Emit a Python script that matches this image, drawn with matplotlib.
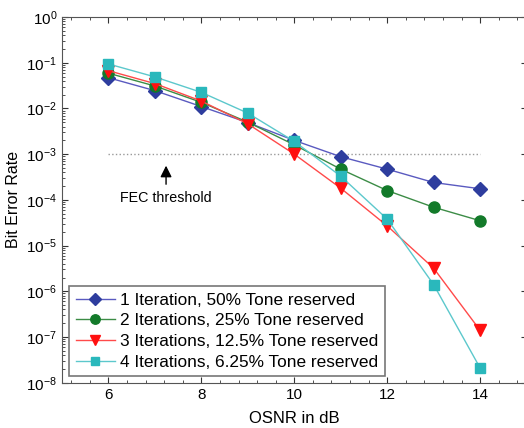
import numpy as np
import matplotlib.pyplot as plt
from matplotlib.ticker import AutoMinorLocator, FixedLocator, NullFormatter

# OSNR values [dB]
osnr = [6, 7, 8, 9, 10, 11, 12, 13, 14]

# Bit error rates
ber_1it = [0.047, 0.0245, 0.011, 0.0049, 0.002, 8.8e-4, 4.7e-4, 2.4e-4, 1.75e-4]
ber_2it = [0.059, 0.031, 0.0136, 0.005, 0.0016, 4.7e-4, 1.6e-4, 6.9e-5, 3.5e-5]
ber_3it = [0.067, 0.035, 0.0145, 0.0046, 1.0e-3, 1.8e-4, 2.7e-5, 3.2e-6, 1.4e-7]
ber_4it = [0.094, 0.049, 0.0225, 0.0079, 0.0019, 3.3e-4, 3.8e-5, 1.4e-6, 2.1e-8]

labels = ["1 Iteration, 50% Tone reserved",
          "2 Iterations, 25% Tone reserved",
          "3 Iterations, 12.5% Tone reserved",
          "4 Iterations, 6.25% Tone reserved"]

fec_level = 1e-3
fec_x = [6, 14]

decades = np.arange(-8, 1)

plt.rcParams['font.family'] = ['Liberation Sans', 'DejaVu Sans']

fig = plt.figure(figsize=(5.24, 4.28), dpi=100)
ax = fig.add_axes([0.1183, 0.1058, 0.8866, 0.8544])

ax.plot(fec_x, [fec_level, fec_level], ls=':', color='#999999', lw=1)

ax.plot(osnr, ber_1it, '-D', color='#5a5ac0', mfc='#2e3d9e', mec='#2e3d9e',
        ms=7, lw=1, label=labels[0])
ax.plot(osnr, ber_2it, '-o', color='#3c8c46', mfc='#137a2a', mec='#137a2a',
        ms=8, lw=1, label=labels[1])
ax.plot(osnr, ber_3it, '-v', color='#ff4a4a', mfc='#ff1010', mec='#ff1010',
        ms=8.5, lw=1, label=labels[2])
ax.plot(osnr, ber_4it, '-s', color='#5cc8cc', mfc='#2ab8bc', mec='#2ab8bc',
        ms=7, lw=1, label=labels[3])

# FEC threshold arrow and text
ax.annotate("", xy=(7.24, 5.6e-4), xytext=(7.24, 2.2e-4),
            arrowprops=dict(arrowstyle='-|>', color='black', lw=1,
                            mutation_scale=17, shrinkA=0, shrinkB=0))
ax.text(7.24, 1.12e-4, "FEC threshold", ha='center', va='center', fontsize=10.3)

ax.set_yscale('log')
ax.set_xlim(5, 15)
ax.set_ylim(1e-8, 1)
ax.set_xticks([6, 8, 10, 12, 14])
ax.xaxis.set_minor_locator(AutoMinorLocator(5))
ax.yaxis.set_major_locator(FixedLocator(10.0 ** decades))
minor_y = [m * 10.0 ** d for d in decades[:-1] for m in range(2, 10)]
ax.yaxis.set_minor_locator(FixedLocator(minor_y))
ax.yaxis.set_minor_formatter(NullFormatter())
ax.tick_params(which='both', direction='in', top=True, right=True,
               labelsize=11, colors='#333333', labelcolor='black')
ax.tick_params(which='major', length=4)
ax.tick_params(which='minor', length=2)
for s in ax.spines.values():
    s.set_color('#555555')

ax.set_xlabel("OSNR in dB", fontsize=12, labelpad=7)
ax.set_ylabel("Bit Error Rate", fontsize=11.5)

leg = ax.legend(loc='lower left', fontsize=12.4, frameon=True, fancybox=False,
                edgecolor='#555555', handlelength=2.3, borderpad=0.38,
                labelspacing=0.32, handletextpad=0.3, borderaxespad=0,
                markerscale=0.85, bbox_to_anchor=(0.015, 0.018))
leg.get_frame().set_linewidth(1.2)

fig.savefig("out.png", dpi=100)
